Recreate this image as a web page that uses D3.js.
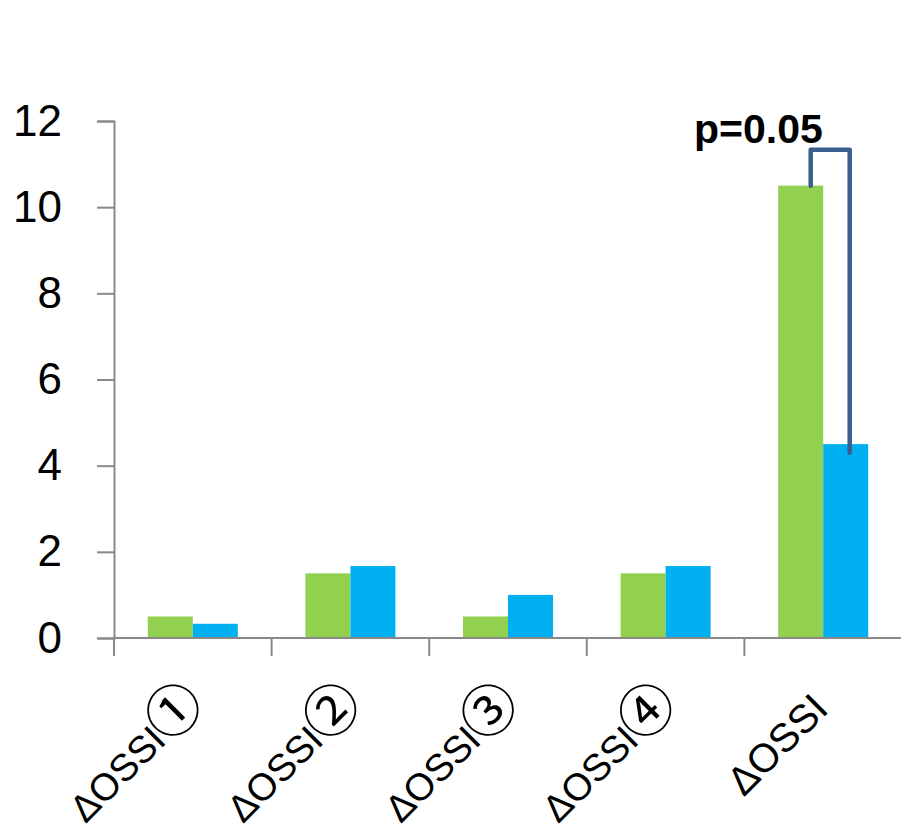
<!DOCTYPE html>
<html><head><meta charset="utf-8">
<script src="https://cdn.jsdelivr.net/npm/d3@7"></script>
<style>body{margin:0;background:#fff}</style>
</head><body>
<script>
const categories = ["ΔOSSI①","ΔOSSI②","ΔOSSI③","ΔOSSI④","ΔOSSI"];
const series = ["A","B"];
const seriesA = [0.5, 1.5, 0.5, 1.5, 10.5];
const seriesB = [0.33, 1.67, 1.0, 1.67, 4.5];
const colors = ["#92d050", "#00b0f0"];
const yTicks = [0,2,4,6,8,10,12];
const pLabel = "p=0.05";
const bracketCategory = "ΔOSSI";
const bracketTop = 11.33;
const bracketEnds = [10.5, 4.3];

const W = 901, H = 836;
const svg = d3.select("body").append("svg").attr("width", W).attr("height", H);
const font = "'Liberation Sans', Arial, sans-serif";

const x0 = d3.scaleBand().domain(categories).range([114, 902]).padding(0);
const x1 = d3.scaleBand().domain(series).range([0, x0.bandwidth()]).paddingInner(0).paddingOuter(0.751);
const y = d3.scaleLinear().domain([0, 12]).range([638, 121]);

// bars
const data = categories.map((c, i) => ({c, vals: [seriesA[i], seriesB[i]]}));
const g = svg.append("g");
data.forEach(d => {
  d.vals.forEach((v, j) => {
    g.append("rect")
      .attr("x", x0(d.c) + x1(series[j]))
      .attr("width", x1.bandwidth())
      .attr("y", y(v))
      .attr("height", y(0) - y(v))
      .attr("fill", colors[j]);
  });
});

// y axis
const yAxis = d3.axisLeft(y).tickValues(yTicks).tickSize(17).tickPadding(35).tickFormat(d3.format("d"));
const ya = svg.append("g").attr("transform", "translate(114,0)").call(yAxis);
ya.select(".domain").attr("stroke", "#898989").attr("stroke-width", 2);
ya.selectAll(".tick line").attr("stroke", "#898989").attr("stroke-width", 2);
ya.selectAll(".tick text").attr("font-family", font).attr("font-size", 44).attr("fill", "#000");

// x axis
const xa = svg.append("g").attr("transform", `translate(0,${y(0)})`);
xa.append("line").attr("x1", 114).attr("x2", 902).attr("y1", 0).attr("y2", 0)
  .attr("stroke", "#898989").attr("stroke-width", 2);
const bounds = categories.map(c => x0(c)).concat([x0.range()[1]]);
xa.selectAll("line.tk").data(bounds).join("line").attr("class", "tk")
  .attr("x1", d => d).attr("x2", d => d).attr("y1", 0).attr("y2", 18)
  .attr("stroke", "#898989").attr("stroke-width", 2);

// category labels
categories.forEach(c => {
  const last = c.slice(-1);
  const circled = last >= "\u2460" && last <= "\u2473";
  const cx = x0(c) + x0.bandwidth() / 2 + (circled ? 13 : 7);
  const cy = circled ? 704 : 711;
  const t = svg.append("text")
    .attr("transform", `translate(${cx},${cy}) rotate(-45)`)
    .attr("text-anchor", "end")
    .attr("font-family", font)
    .attr("font-size", circled ? 38 : 40)
    .attr("fill", "#000");
  if (circled) {
    t.append("tspan").text(c.slice(0, -1));
    t.append("tspan").attr("font-family", "'Noto Sans CJK JP', 'DejaVu Sans', sans-serif")
      .attr("font-size", 55).attr("dx", -1).attr("dy", 2).text(last);
  } else {
    t.text(c);
  }
});

// significance bracket
const bx = x0(bracketCategory);
const lx = bx + x1("A") + x1.bandwidth() / 2 + 10;
const rx = bx + x1("B") + x1.bandwidth() / 2 + 4;
svg.append("path")
  .attr("d", `M${lx},${y(bracketEnds[0])} V${y(bracketTop)} H${rx} V${y(bracketEnds[1])}`)
  .attr("fill", "none").attr("stroke", "#3a5f8e").attr("stroke-width", 4.5)
  .attr("stroke-linejoin", "round").attr("stroke-linecap", "round");
svg.append("text")
  .attr("x", 694).attr("y", 143)
  .attr("font-family", font).attr("font-weight", "bold").attr("font-size", 41)
  .attr("fill", "#000").text(pLabel);
</script>
</body></html>
